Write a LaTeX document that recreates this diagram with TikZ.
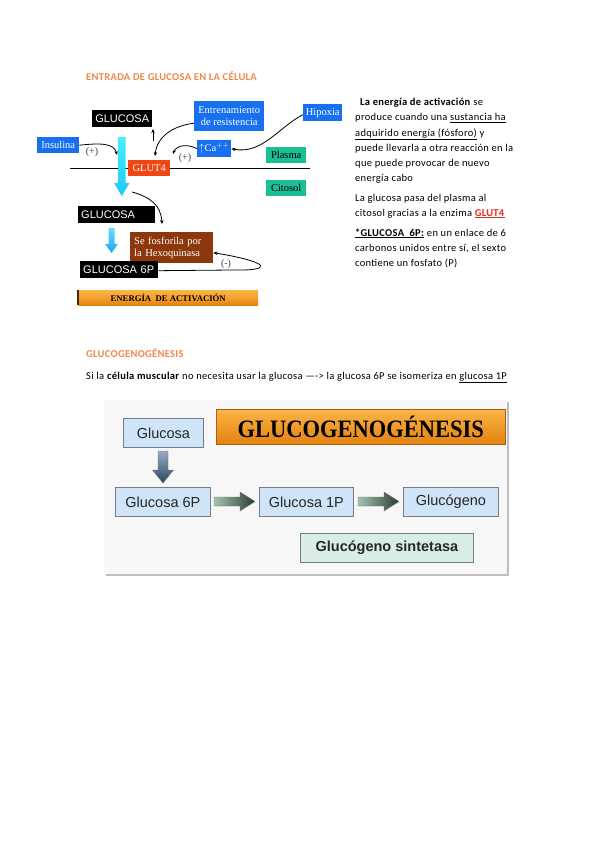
\documentclass[tikz,border=0pt]{standalone}
\usepackage{fontspec}
\setmainfont{Carlito}[LetterSpace=3]
\newfontfamily\arialf{Liberation Sans}
\newfontfamily\timesf{Liberation Serif}
\newfontfamily\timescond[FakeStretch=0.9]{Liberation Serif}
\usetikzlibrary{arrows.meta}
\definecolor{ttlorange}{RGB}{240,135,75}
\definecolor{boxblue}{RGB}{22,112,240}
\definecolor{glutred}{RGB}{240,70,20}
\definecolor{plasgreen}{RGB}{28,190,150}
\definecolor{hexbrown}{RGB}{140,55,12}
\definecolor{cyantop}{RGB}{70,240,250}
\definecolor{cyanbot}{RGB}{30,200,245}
\definecolor{lbluetop}{RGB}{110,220,250}
\definecolor{lbluebot}{RGB}{30,165,240}
\definecolor{pbox}{RGB}{207,228,246}
\definecolor{pgreen}{RGB}{216,238,228}
\definecolor{pborder}{RGB}{115,125,135}
\definecolor{orgtop}{RGB}{250,180,70}
\definecolor{orgbot}{RGB}{228,130,15}
\definecolor{gluRed}{RGB}{235,40,30}
\begin{document}
\begin{tikzpicture}[x=1pt,y=-1pt,
  txt/.style={anchor=base west, inner sep=0pt, font=\fontsize{10.5}{12}\selectfont},
  ttl/.style={anchor=base west, inner sep=0pt, text=ttlorange, font=\fontsize{10.5}{12}\selectfont\bfseries},
  blk/.style={anchor=north west, fill=black, text=white, inner sep=0pt, font=\arialf\fontsize{11}{12}\selectfont},
  blkl/.style={anchor=north west, fill=black, text=white, inner xsep=3pt, inner ysep=0pt, align=left, font=\arialf\fontsize{11}{12}\selectfont},
  sbox/.style={anchor=north west, inner sep=0pt, align=center, font=\timesf\fontsize{10.5}{12.5}\selectfont},
  bbox/.style={sbox, fill=boxblue, text=white},
  pnode/.style={anchor=north west, inner sep=0pt, fill=pbox, draw=pborder, line width=0.8pt, font=\arialf\fontsize{14.5}{16}\selectfont, text=black!85},
  conn/.style={-{Stealth[length=4pt,width=3.5pt]}, line width=0.8pt, black},
  sign/.style={inner sep=0pt, font=\timesf\fontsize{10}{10}\selectfont, text=black!75}
]
\useasboundingbox (0,0) rectangle (599,848);
\fill[white] (0,0) rectangle (599,848);

% ---------- Section 1 title ----------
\node[ttl] (t1) at (86,81) {ENTRADA DE GLUCOSA EN LA CÉLULA};

% ---------- Top diagram ----------
\draw[line width=0.9pt] (70,168) coordinate (memL) -- (310,168) coordinate (memR);

\node[blk, minimum width=60, minimum height=17] (g1) at (92,110) {GLUCOSA};
\node[bbox, minimum width=70, minimum height=30] (ent) at (194,101) {Entrenamiento\\de resistencia};
\node[bbox, minimum width=39, minimum height=17] (hip) at (303,104) {Hipoxia};
\node[bbox, minimum width=42, minimum height=16] (ins) at (37,137) {Insulina};
\node[bbox, minimum width=34, minimum height=17] (ca) at (197,140) {$\uparrow$Ca$^{++}$};
\node[sbox, fill=glutred, text=white, minimum width=42, minimum height=16] (glut) at (128,160) {GLUT4};
\node[sbox, fill=plasgreen, minimum width=40, minimum height=16] (pla) at (266,147) {Plasma};
\node[sbox, fill=plasgreen, minimum width=40, minimum height=16] (cit) at (266,180) {Citosol};
\node[blkl, text width=71pt, minimum height=17] (g2) at (78,206) {GLUCOSA};
\node[sbox, fill=hexbrown, text=white, align=left, inner xsep=4pt, text width=75pt, minimum height=31] (hex) at (130,232) {Se fosforila por\\la Hexoquinasa};
\node[blkl, text width=72pt, minimum height=17] (g6) at (80,261) {GLUCOSA 6P};
\node[anchor=north west, inner sep=0pt, minimum width=180, minimum height=15, top color=orgtop, bottom color=orgbot, middle color={rgb,255:red,244;green,160;blue,45}, font=\timesf\fontsize{8.7}{9}\selectfont\bfseries] (en) at (78,290) {ENERGÍA \ DE ACTIVACIÓN};
\draw[line width=1.2pt, black!70!orgbot] (en.north west) -- (en.south west);

% cyan arrows
\shade[top color=cyantop, bottom color=cyanbot] (118,137) -- (125.5,137) -- (125.5,183) -- (129.5,183) -- (121.75,196) -- (114,183) -- (118,183) -- cycle;
\shade[top color=lbluetop, bottom color=lbluebot] (108.5,228) -- (114.5,228) -- (114.5,244) -- (118,244) -- (111.5,253) -- (105,244) -- (108.5,244) -- cycle;

% connectors
\coordinate (upA) at (153,141);
\coordinate (upB) at (153,129);
\draw[-{Stealth[length=4pt,width=3.5pt]}, line width=0.7pt] (upA) -- (upB);
\coordinate (insT) at (117,155);
\draw[conn] (ins.east) .. controls (100,143) and (114,143) .. (insT);
\node[sign] (s1) at (92,152) {(+)};
\coordinate (entT) at (155,156);
\draw[conn] ([yshift=-7pt]ent.west) .. controls (172,126) and (157,137) .. (entT);
\coordinate (caT) at (173,154);
\draw[conn] (ca.west) .. controls (186,143) and (176,146) .. (caT);
\node[sign] (s2) at (185,158) {(+)};
\draw[conn] ([yshift=-2pt]hip.west) .. controls (280,126) and (262,155) .. (ca.east);
\coordinate (arS) at (132,192);
\coordinate (arT) at (162,224);
\draw[conn] (arS) .. controls (150,197) and (161,205) .. (arT);
\draw[conn] ([yshift=-1pt]g6.east) -- (232,270) .. controls (275,271) and (270,262) .. ([yshift=-5pt]hex.east);
\node[sign] (s3) at (226,264) {(-)};

% ---------- Right text block ----------
\node[txt] (l1) at (360,106) {\textbf{La energía de activación} se};
\node[txt] (l2) at (355,121) {produce cuando una \underline{sustancia ha}};
\node[txt] (l3) at (355,136) {\underline{adquirido energía (fósforo)} y};
\node[txt] (l4) at (355,151) {puede llevarla a otra reacción en la};
\node[txt] (l5) at (355,166) {que puede provocar de nuevo};
\node[txt] (l6) at (355,181) {energía cabo};
\node[txt] (l7) at (355,201) {La glucosa pasa del plasma al};
\node[txt] (l8) at (355,216) {citosol gracias a la enzima \textcolor{gluRed}{\underline{\textbf{GLUT4}}}};
\node[txt] (l9) at (355,236) {\underline{\textbf{*GLUCOSA \ 6P:}} en un enlace de 6};
\node[txt] (l10) at (355,251) {carbonos unidos entre sí, el sexto};
\node[txt] (l11) at (355,266) {contiene un fosfato (P)};

% ---------- Section 2 ----------
\node[ttl] (t2) at (86,357) {GLUCOGENOGÉNESIS};
\node[txt] (l12) at (86,379) {Si la \textbf{célula muscular} no necesita usar la glucosa —-> la glucosa 6P se isomeriza en \underline{glucosa 1P}};

% panel
\fill[black!25] (106,402) rectangle (509,576);
\fill[black!3] (104,400) rectangle (507,574);

\node[pnode, minimum width=80, minimum height=29] (pg) at (123,418) {Glucosa};
\node[anchor=north west, inner sep=0pt, minimum width=289, minimum height=35, top color=orgtop, bottom color=orgbot, draw={rgb,255:red,170;green,95;blue,20}, line width=0.6pt, font=\timescond\fontsize{25}{26}\selectfont\bfseries] (pt) at (216,409) {GLUCOGENOGÉNESIS\hspace{14pt}};
\node[pnode, minimum width=95, minimum height=29] (p6) at (115,487) {Glucosa 6P};
\node[pnode, minimum width=94, minimum height=29] (p1) at (259,487) {Glucosa 1P};
\node[pnode, minimum width=95, minimum height=29] (pgl) at (403,487) {Glucógeno};
\node[pnode, fill=pgreen, minimum width=173, minimum height=29, font=\arialf\fontsize{14.5}{16}\selectfont\bfseries] (ps) at (300,533) {Glucógeno sintetasa};

% fat arrows
\shade[top color={rgb,255:red,150;green,172;blue,196}, bottom color={rgb,255:red,45;green,70;blue,95}, draw=black!55, line width=0.4pt] (158,451) -- (168,451) -- (168,470) -- (173.5,470) -- (163,483) -- (152.5,470) -- (158,470) -- cycle;
\shade[left color={rgb,255:red,165;green,195;blue,175}, right color={rgb,255:red,40;green,60;blue,50}, draw=black!55, line width=0.4pt] (214,497) -- (240,497) -- (240,492) -- (255,501.5) -- (240,511) -- (240,506) -- (214,506) -- cycle;
\shade[left color={rgb,255:red,165;green,195;blue,175}, right color={rgb,255:red,40;green,60;blue,50}, draw=black!55, line width=0.4pt] (358,497) -- (384,497) -- (384,492) -- (399,501.5) -- (384,511) -- (384,506) -- (358,506) -- cycle;
\end{tikzpicture}
\end{document}
